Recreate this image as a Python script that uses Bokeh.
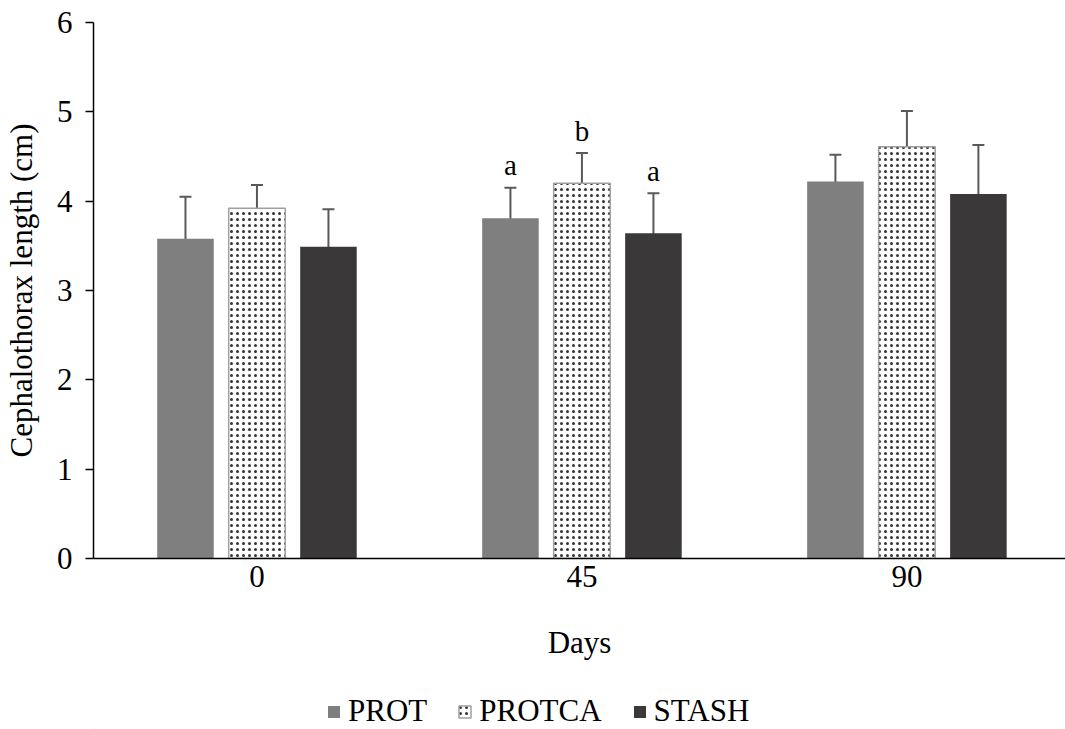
from bokeh.plotting import figure
from bokeh.layouts import column
from bokeh.models import (Range1d, FixedTicker, ColumnDataSource, Whisker, TeeHead,
                          Legend, LegendItem)
from bokeh.core.properties import value
from bokeh.embed import file_html
from bokeh.resources import INLINE

days = ["0", "45", "90"]
series = ["PROT", "PROTCA", "STASH"]
prot = [3.58, 3.81, 4.22]
protca = [3.92, 4.20, 4.61]
stash = [3.49, 3.64, 4.08]
prot_err = [0.47, 0.34, 0.30]
protca_err = [0.26, 0.34, 0.40]
stash_err = [0.42, 0.45, 0.55]
letters_45 = ["a", "b", "a"]

FONT = "Liberation Serif"
FS = "31px"
fills = ["#7f7f7f", "white", "#3a3838"]
lines = [None, "#a0a0a0", None]
offsets = [-0.22, 0.0, 0.22]
bar_w = 0.174

W = 1065
H_MAIN = 692
H_LEG = 37


def bar_style(k):
    kw = dict(fill_color=fills[k])
    if lines[k]:
        kw.update(line_color=lines[k], line_width=1.5, hatch_pattern="dot",
                  hatch_scale=6, hatch_weight=0.8, hatch_color="#333333")
    else:
        kw.update(line_color=None)
    return kw


p = figure(width=W, height=H_MAIN, output_backend="svg", toolbar_location=None,
           x_range=Range1d(-0.503, 2.488), y_range=Range1d(0, 6),
           min_border_left=92, min_border_top=22, min_border_right=0,
           min_border_bottom=H_MAIN - 558)
p.outline_line_color = None
p.grid.visible = False
p.background_fill_color = "white"

# legend strip below the chart (its ranges keep the bars out of view)
q = figure(width=W, height=H_LEG, output_backend="svg", toolbar_location=None,
           x_range=Range1d(1000, 1001), y_range=Range1d(1000, 1001),
           x_axis_location=None, y_axis_location=None, min_border=0)
q.outline_line_color = None
q.grid.visible = False

idx = list(range(len(days)))
vals = [prot, protca, stash]
errs = [prot_err, protca_err, stash_err]
leg_renderers = []
for k, name in enumerate(series):
    xs = [i + offsets[k] for i in idx]
    src = ColumnDataSource(dict(x=xs, top=vals[k],
                                upper=[v + e for v, e in zip(vals[k], errs[k])],
                                lower=[v - e for v, e in zip(vals[k], errs[k])]))
    p.vbar(x="x", top="top", width=bar_w, source=src, **bar_style(k))
    w = Whisker(base="x", upper="upper", lower="lower", source=src,
                line_color="#595959", line_width=2,
                upper_head=TeeHead(size=12, line_color="#595959", line_width=2),
                lower_head=TeeHead(size=12, line_color="#595959", line_width=2))
    p.add_layout(w)
    leg_renderers.append(q.vbar(x="x", top="top", width=bar_w, source=src, **bar_style(k)))

# significance letters for day 45
lx = [1 + o for o in offsets]
ly = [vals[k][1] + errs[k][1] + 0.25 for k in range(3)]
p.text(x=lx, y=ly, text=letters_45, text_font=value(FONT), text_font_size="29px",
       text_align="center", text_baseline="alphabetic", text_color="black")

# axes
p.yaxis.ticker = FixedTicker(ticks=[0, 1, 2, 3, 4, 5, 6])
p.yaxis.minor_tick_line_color = None
p.yaxis.major_tick_out = 8
p.yaxis.major_tick_in = 0
p.yaxis.major_tick_line_width = 1.5
p.yaxis.axis_line_width = 1.5
p.yaxis.axis_line_color = "black"
p.yaxis.major_label_text_font = FONT
p.yaxis.major_label_text_font_size = FS
p.yaxis.major_label_text_color = "black"
p.yaxis.major_label_standoff = 13
p.yaxis.axis_label = "Cephalothorax length (cm)"
p.yaxis.axis_label_text_font = FONT
p.yaxis.axis_label_text_font_size = FS
p.yaxis.axis_label_text_font_style = "normal"
p.yaxis.axis_label_text_color = "black"
p.yaxis.axis_label_standoff = 15

p.xaxis.ticker = FixedTicker(ticks=idx)
p.xaxis.major_label_overrides = {i: d for i, d in enumerate(days)}
p.xaxis.minor_tick_line_color = None
p.xaxis.major_tick_line_color = None
p.xaxis.axis_line_width = 1.5
p.xaxis.axis_line_color = "black"
p.xaxis.major_label_text_font = FONT
p.xaxis.major_label_text_font_size = FS
p.xaxis.major_label_text_color = "black"
p.xaxis.major_label_standoff = 1
p.xaxis.axis_label = "Days"
p.xaxis.axis_label_text_font = FONT
p.xaxis.axis_label_text_font_size = FS
p.xaxis.axis_label_text_font_style = "normal"
p.xaxis.axis_label_text_color = "black"
p.xaxis.axis_label_standoff = 35

legend = Legend(items=[LegendItem(label=s, renderers=[r]) for s, r in zip(series, leg_renderers)],
                orientation="horizontal", location=(233, 0),
                label_text_font=FONT, label_text_font_size=FS,
                label_text_color="black", glyph_width=15, glyph_height=15,
                spacing=30, label_standoff=7, border_line_color=None,
                background_fill_alpha=0, padding=0, margin=0)
q.add_layout(legend, "center")

layout = column(p, q, spacing=0)
open("out.html", "w").write(file_html(layout, INLINE))
